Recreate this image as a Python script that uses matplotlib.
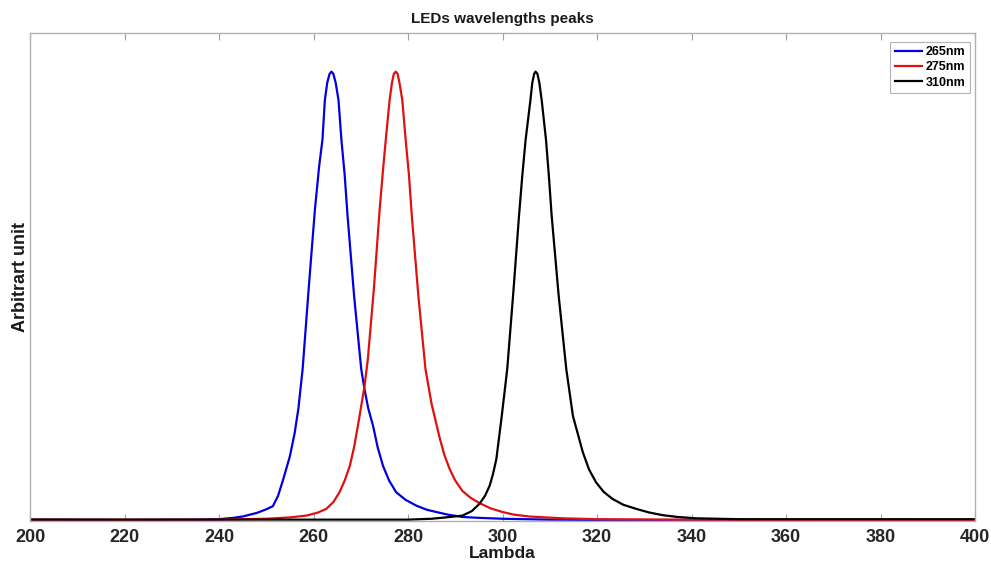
import matplotlib.pyplot as plt

plt.rcParams['font.family'] = ['Liberation Sans', 'DejaVu Sans']
plt.rcParams['font.weight'] = 'bold'

# Spectra (wavelength in nm, normalised intensity)
wl_265 = [200, 220, 235, 240, 243, 245, 248, 250, 251.4, 252.5, 253.6, 255.0, 256.0, 256.8, 257.7,
          259.0, 260.3, 261.2, 261.9, 262.4, 262.9, 263.4, 263.8, 264.2, 264.7, 265.3, 265.9,
          266.6, 267.2, 268.6, 270.1, 270.8, 271.6, 272.6, 273.6, 274.7, 276.0, 277.5, 279.5,
          281.8, 284.0, 286.0, 288.5, 291.5, 295, 300, 310, 330, 360, 400]
val_265 = [0.003, 0.002, 0.003, 0.004, 0.007, 0.010, 0.018, 0.026, 0.033, 0.056, 0.093, 0.144, 0.195, 0.25, 0.338,
           0.52, 0.693, 0.79, 0.849, 0.936, 0.975, 0.995, 1.0, 0.995, 0.975, 0.936, 0.849,
           0.77, 0.68, 0.50, 0.338, 0.293, 0.25, 0.212, 0.163, 0.123, 0.09, 0.064, 0.047,
           0.034, 0.025, 0.020, 0.014, 0.009, 0.007, 0.005, 0.003, 0.002, 0.002, 0.002]

wl_275 = [200, 240, 250, 255, 258.5, 261.0, 262.7, 264.2, 265.5, 266.6, 267.7, 268.6, 269.4, 270.8,
          271.5, 272.8, 274.0, 274.7, 275.3, 276.1, 276.6, 277.0, 277.4, 277.8, 278.2, 278.8,
          279.5, 280.2, 280.8, 282.2, 283.7, 285.0, 286.7, 287.7, 288.8, 290.0, 291.5, 293.2,
          295.1, 297.5, 300, 302.5, 305.7, 312.7, 320, 340, 400]
val_275 = [0.003, 0.003, 0.005, 0.008, 0.012, 0.019, 0.027, 0.042, 0.064, 0.09, 0.123, 0.165, 0.212, 0.30,
           0.36, 0.52, 0.693, 0.78, 0.849, 0.936, 0.975, 0.995, 1.0, 0.995, 0.975, 0.936,
           0.849, 0.77, 0.68, 0.50, 0.338, 0.26, 0.185, 0.147, 0.116, 0.09, 0.067, 0.052,
           0.040, 0.028, 0.020, 0.014, 0.010, 0.006, 0.004, 0.003, 0.002]

wl_310 = [200, 260, 280, 285, 288, 291.5, 293.5, 295.1, 296.3, 297.3, 298.0, 298.7, 299.8, 301.0,
          302.3, 303.5, 304.2, 304.9, 305.9, 306.3, 306.7, 307.0, 307.4, 307.8, 308.3, 309.2,
          309.8, 310.4, 311.9, 313.5, 314.9, 317.0, 318.3, 319.8, 321.4, 323.3, 325.6, 328.3,
          331.0, 333.9, 337.0, 341, 350, 400]
val_310 = [0.003, 0.003, 0.003, 0.005, 0.008, 0.012, 0.022, 0.038, 0.056, 0.079, 0.105, 0.138, 0.23, 0.338,
           0.51, 0.68, 0.77, 0.849, 0.936, 0.975, 0.995, 1.0, 0.995, 0.975, 0.936, 0.849,
           0.77, 0.68, 0.50, 0.338, 0.234, 0.153, 0.115, 0.086, 0.065, 0.049, 0.036, 0.027,
           0.019, 0.013, 0.009, 0.006, 0.004, 0.004]

series = [("265nm", wl_265, val_265, "#0000e0"),
          ("275nm", wl_275, val_275, "#e01010"),
          ("310nm", wl_310, val_310, "#000000")]

x_ticks = list(range(200, 401, 20))

fig = plt.figure(figsize=(9.91, 5.66), dpi=100)
ax = fig.add_axes([30 / 991, 45 / 566, 945 / 991, 488 / 566])

for name, wl, val, col in series:
    ax.plot(wl, val, color=col, lw=1.6, label=name)

ax.set_xlim(200, 400)
ax.set_ylim(0, 1.086)
ax.set_xticks(x_ticks)
ax.set_yticks([])
ax.tick_params(axis='x', direction='in', length=5, width=0.8, color='#a0a0a0',
               top=True, labelsize=13, labelcolor='#262626', pad=6)
for s in ax.spines.values():
    s.set_color('#b0b0b0')
    s.set_linewidth(1.0)
for lab in ax.get_xticklabels():
    lab.set_fontweight('bold')

ax.set_title("LEDs wavelengths peaks", fontsize=11, fontweight='bold', color='#1a1a1a', pad=7)
ax.set_xlabel("Lambda", fontsize=12.5, fontweight='bold', color='#1a1a1a', labelpad=0)
ax.set_ylabel("Arbitrart unit", fontsize=13, fontweight='bold', color='#1a1a1a', labelpad=1)

leg = ax.legend(loc='upper right', bbox_to_anchor=(0.9947, 0.9816), borderaxespad=0,
                fancybox=False, fontsize=9, handlelength=2.2, handletextpad=0.3,
                labelspacing=0.25, borderpad=0.35)
leg.get_frame().set_edgecolor('#a0a0a0')
leg.get_frame().set_linewidth(0.8)
for t in leg.get_texts():
    t.set_fontweight('bold')

fig.savefig("out.png", dpi=100)
